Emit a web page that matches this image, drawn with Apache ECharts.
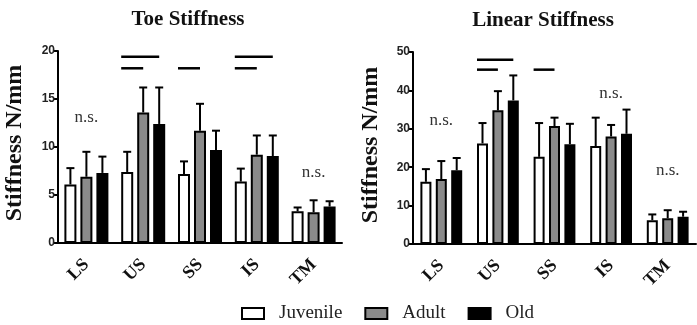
<!DOCTYPE html>
<html><head><meta charset="utf-8">
<script src="https://cdn.jsdelivr.net/npm/echarts@6/dist/echarts.min.js"></script>
<style>html,body{margin:0;padding:0;background:#fff}#c{width:697px;height:325px}</style>
</head><body><div id="c"></div>
<script>
// ---------- data ----------
const categories = ['LS', 'US', 'SS', 'IS', 'TM'];
const groupNames = ['Juvenile', 'Adult', 'Old'];

const toeJuvenile = [6.1, 7.4, 7.2, 6.4, 3.3];
const toeAdult    = [6.9, 13.6, 11.7, 9.2, 3.2];
const toeOld      = [7.3, 12.4, 9.7, 9.05, 3.8];
const toeJuvenileSD = [1.7, 2.1, 1.3, 1.35, 0.4];
const toeAdultSD    = [2.6, 2.6, 2.8, 2.0, 1.25];
const toeOldSD      = [1.7, 3.8, 2.0, 2.15, 0.55];

const linJuvenile = [16.2, 26.2, 22.7, 25.5, 6.2];
const linAdult    = [16.9, 34.8, 30.7, 28.0, 6.7];
const linOld      = [19.2, 37.4, 26.0, 28.7, 7.1];
const linJuvenileSD = [3.3, 5.3, 8.8, 7.4, 1.5];
const linAdultSD    = [4.7, 5.0, 2.2, 3.0, 2.1];
const linOldSD      = [3.2, 6.5, 5.3, 6.3, 1.3];

const toeTicks = [0, 5, 10, 15, 20];
const linTicks = [0, 10, 20, 30, 40, 50];

// significance bars: [category index, from group, to group, level]
const toeSig = [[1, 0, 2, 19.4], [1, 0, 1, 18.2], [2, 0, 1, 18.2], [3, 0, 2, 19.4], [3, 0, 1, 18.2]];
const linSig = [[1, 0, 2, 48.0], [1, 0, 1, 45.4], [2, 0, 1, 45.4]];
// n.s. labels: [category index, level]
const toeNS = [[0, 13.1], [4, 7.3]];
const linNS = [[0, 32.2], [3, 39.2], [4, 19.2]];

// ---------- chart ----------
const fills = ['#ffffff', '#8a8a8a', '#000000'];
const serif = 'Liberation Serif';
const sans = 'Liberation Sans';

const panels = [
  { means: [toeJuvenile, toeAdult, toeOld], sds: [toeJuvenileSD, toeAdultSD, toeOldSD], ticks: toeTicks, sig: toeSig, ns: toeNS, barW: 12, gap: 4 },
  { means: [linJuvenile, linAdult, linOld], sds: [linJuvenileSD, linAdultSD, linOldSD], ticks: linTicks, sig: linSig, ns: linNS, barW: 11, gap: 4.4 }
];

const grids = [
  { left: 58, top: 51, width: 284, height: 192 },
  { left: 413, top: 52, width: 283, height: 192 }
];

const xAxes = [], yAxes = [], series = [];
panels.forEach((p, pi) => {
  const tk = p.ticks;
  xAxes.push({
    type: 'category', gridIndex: pi, data: categories,
    axisLine: { lineStyle: { color: '#000', width: 2 } },
    axisTick: { alignWithLabel: true, length: 5, lineStyle: { color: '#000', width: 2 } },
    axisLabel: { rotate: 45, margin: 19, color: '#111', fontFamily: serif, fontWeight: 'bold', fontSize: 18 }
  });
  yAxes.push({
    type: 'value', gridIndex: pi, min: tk[0], max: tk[tk.length - 1], interval: tk[1] - tk[0],
    splitLine: { show: false },
    axisLine: { show: true, lineStyle: { color: '#000', width: 2 } },
    axisTick: { show: true, length: 5, lineStyle: { color: '#000', width: 2 } },
    axisLabel: { margin: 3, color: '#222', fontFamily: sans, fontWeight: 'bold', fontSize: 12 }
  });
  const step = p.barW + p.gap;
  p.means.forEach((m, gi) => {
    series.push({
      type: 'bar', name: groupNames[gi], xAxisIndex: pi, yAxisIndex: pi, data: m,
      barWidth: p.barW, barGap: (p.gap / p.barW * 100) + '%',
      itemStyle: { color: fills[gi], borderColor: '#000', borderWidth: 2 },
      z: 2
    });
  });
  // error bars
  p.means.forEach((m, gi) => {
    const off = (gi - 1) * step;
    series.push({
      type: 'custom', xAxisIndex: pi, yAxisIndex: pi, z: 3, silent: true,
      data: m.map((v, i) => [i, v, v + p.sds[gi][i]]),
      renderItem: (params, api) => {
        const b = api.coord([api.value(0), api.value(1)]);
        const t = api.coord([api.value(0), api.value(2)]);
        const x = b[0] + off;
        return { type: 'group', children: [
          { type: 'line', shape: { x1: x, y1: b[1], x2: x, y2: t[1] }, style: { stroke: '#000', lineWidth: 2 } },
          { type: 'line', shape: { x1: x - 4, y1: t[1], x2: x + 4, y2: t[1] }, style: { stroke: '#000', lineWidth: 2 } }
        ] };
      }
    });
  });
  // significance lines
  series.push({
    type: 'custom', xAxisIndex: pi, yAxisIndex: pi, z: 3, silent: true,
    data: p.sig,
    renderItem: (params, api) => {
      const c = api.coord([api.value(0), api.value(3)]);
      const a = api.value(1), bb = api.value(2);
      const x1 = c[0] + (a - 1) * step - p.barW / 2;
      const x2 = c[0] + (bb - 1) * step;
      return { type: 'line', shape: { x1: x1, y1: c[1], x2: x2, y2: c[1] }, style: { stroke: '#000', lineWidth: 2.5 } };
    }
  });
  // n.s. labels
  series.push({
    type: 'custom', xAxisIndex: pi, yAxisIndex: pi, z: 3, silent: true,
    data: p.ns,
    renderItem: (params, api) => {
      const c = api.coord([api.value(0), api.value(1)]);
      return { type: 'text', x: c[0], y: c[1], style: { text: 'n.s.', fill: '#333', font: '17px "Liberation Serif"', align: 'center', verticalAlign: 'middle' } };
    }
  });
});

const chart = echarts.init(document.getElementById('c'), null, { renderer: 'canvas' });
chart.setOption({
  backgroundColor: '#ffffff',
  animation: false,
  grid: grids,
  xAxis: xAxes,
  yAxis: yAxes,
  series: series,
  legend: {
    data: groupNames, top: 299, left: 236, itemWidth: 22, itemHeight: 11, itemGap: 22,
    icon: 'rect',
    itemStyle: { borderColor: '#000', borderWidth: 2 },
    textStyle: { fontFamily: serif, fontSize: 19, color: '#222', padding: [0, 0, 0, 10] }
  },
  graphic: [
    { type: 'text', x: 188, y: 20, style: { text: 'Toe Stiffness', font: 'bold 21px "Liberation Serif"', fill: '#111', align: 'center', verticalAlign: 'middle' } },
    { type: 'text', x: 543, y: 21, style: { text: 'Linear Stiffness', font: 'bold 21px "Liberation Serif"', fill: '#111', align: 'center', verticalAlign: 'middle' } },
    { type: 'text', x: 15, y: 143, rotation: Math.PI / 2, style: { text: 'Stiffness N/mm', font: 'bold 24px "Liberation Serif"', fill: '#111', align: 'center', verticalAlign: 'middle' } },
    { type: 'text', x: 371, y: 145, rotation: Math.PI / 2, style: { text: 'Stiffness N/mm', font: 'bold 24px "Liberation Serif"', fill: '#111', align: 'center', verticalAlign: 'middle' } }
  ]
});
</script></body></html>
